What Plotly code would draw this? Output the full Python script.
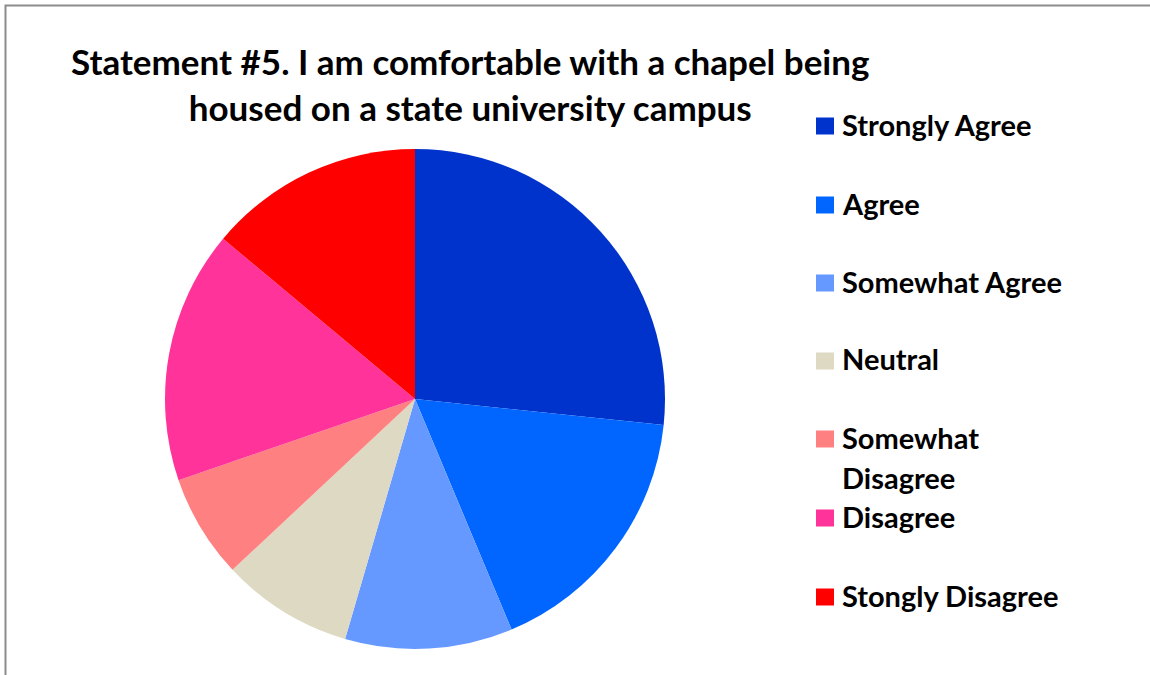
import plotly.graph_objects as go

# Survey responses, statement #5 (share of respondents, %)
categories = ["Strongly Agree", "Agree", "Somewhat Agree", "Neutral",
              "Somewhat Disagree", "Disagree", "Stongly Disagree"]
shares = [26.6, 17.0, 10.8, 8.5, 6.7, 16.3, 13.9]
colors = ["#0033CC", "#0066FF", "#6699FF", "#DDD9C3",
          "#FF8080", "#FF3399", "#FF0000"]
# legend labels as they wrap in the side panel
legend_lines = [["Strongly Agree"], ["Agree"], ["Somewhat Agree"], ["Neutral"],
                ["Somewhat", "Disagree"], ["Disagree"], ["Stongly Disagree"]]

W, H = 1150, 675
FONT = "Lato"


def px(x):
    return x / W


def py(y):
    return 1 - y / H


fig = go.Figure()
fig.add_trace(go.Pie(
    labels=categories,
    values=shares,
    sort=False,
    direction="clockwise",
    rotation=0,
    marker=dict(colors=colors, line=dict(width=0)),
    textinfo="none",
    showlegend=False,
    domain=dict(x=[px(165), px(665)], y=[py(649), py(149)]),
))

shapes = [
    # chart frame
    dict(type="rect", xref="paper", yref="paper",
         x0=px(5.5), x1=px(1200), y0=py(5.5), y1=py(720),
         line=dict(color="#8C8C8C", width=2), fillcolor="rgba(0,0,0,0)", layer="below"),
]
annotations = [
    dict(text="<b>Statement #5. I am comfortable with a chapel being<br>housed on a state university campus</b>",
         x=px(470), y=py(84), xref="paper", yref="paper",
         xanchor="center", yanchor="middle", showarrow=False,
         font=dict(family=FONT, size=35, color="black")),
]

# side legend: swatch + label, one row per category
row_y = [126, 205, 283, 361, 439, 518, 597]
for i, (lines, c) in enumerate(zip(legend_lines, colors)):
    y0 = row_y[i]
    shapes.append(dict(type="rect", xref="paper", yref="paper",
                       x0=px(816), x1=px(834), y0=py(y0 - 8.5), y1=py(y0 + 8.5),
                       line=dict(width=0), fillcolor=c))
    for j, line in enumerate(lines):
        annotations.append(dict(text=f"<b>{line}</b>", x=px(840), y=py(y0 - 2 + 40 * j),
                                xref="paper", yref="paper", xanchor="left", yanchor="middle",
                                showarrow=False,
                                font=dict(family=FONT, size=29, color="black")))

fig.update_layout(
    width=W, height=H,
    margin=dict(l=0, r=0, t=0, b=0),
    paper_bgcolor="white", plot_bgcolor="white",
    shapes=shapes, annotations=annotations,
)
fig.write_html("out.html")
